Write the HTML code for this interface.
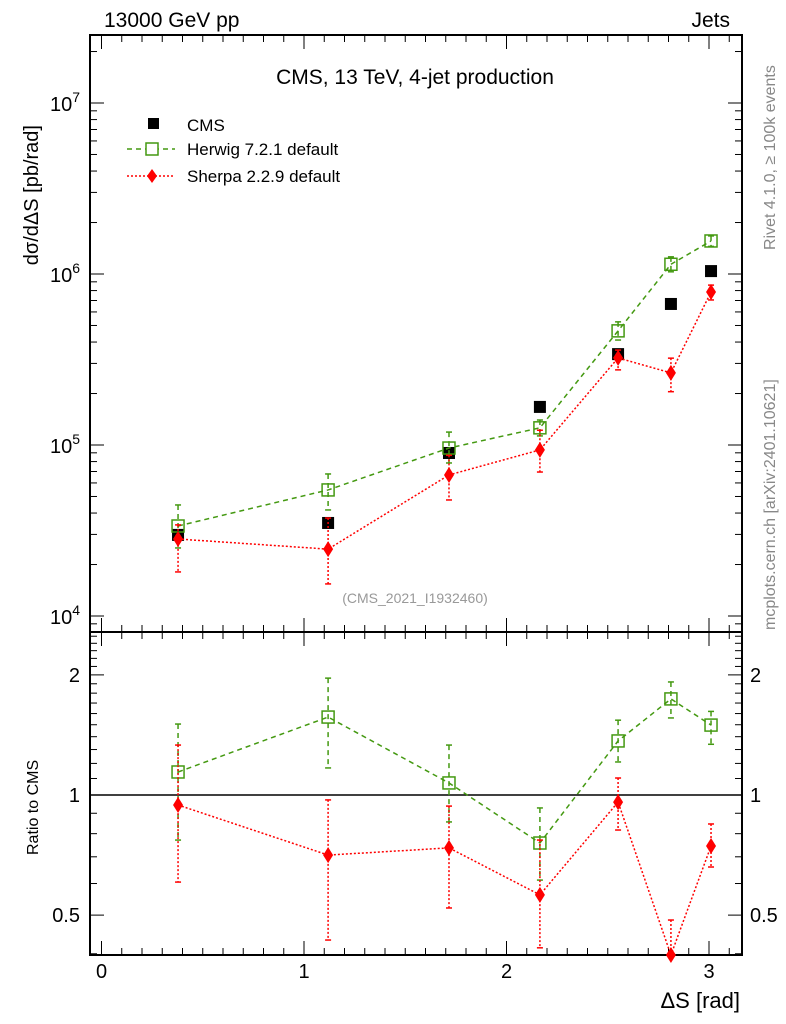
<!DOCTYPE html>
<html><head><meta charset="utf-8"><style>
body{margin:0;background:#fff;}
svg{display:block;font-family:"Liberation Sans",sans-serif;}
</style></head><body>
<svg id="c" width="786" height="1024" viewBox="0 0 786 1024" xmlns="http://www.w3.org/2000/svg"></svg>
<script>
const xs=[0.378,1.119,1.716,2.165,2.551,2.812,3.01];
const cmsVals=[29800,35000,89800,167000,340000,668000,1040000];
const herwigVals=[33600,54600,96000,126000,465000,1140000,1560000];
const herwigLo=[25000,41700,78500,113000,411000,1030000,1450000];
const herwigHi=[44600,67700,119000,140000,525000,1260000,1670000];
const sherpaVals=[28200,24600,66800,93600,323000,264000,785000];
const sherpaLo=[18100,15400,47700,69500,275000,205000,705000];
const sherpaHi=[34100,37400,87000,122000,359000,322000,861000];
const herwigRatio=[1.142,1.568,1.072,0.758,1.366,1.741,1.497];
const herwigRLo=[0.771,1.169,0.856,0.612,1.21,1.56,1.34];
const herwigRHi=[1.506,1.963,1.334,0.928,1.54,1.92,1.62];
const sherpaRatio=[0.944,0.707,0.737,0.562,0.960,0.39,0.745];
const sherpaRLo=[0.605,0.433,0.521,0.414,0.817,0.35,0.660];
const sherpaRHi=[1.334,0.972,0.938,0.771,1.103,0.486,0.846];
const xTicks=[0,1,2,3];
const yMainTicks=[4,5,6,7];
const yRatioTicks=[0.5,1,2];

const L=90,R=742,T=35,M=632,B=955;
const X=v=>101.5+v*202.5;
const YM=v=>616-(Math.log10(v)-4)*171;
const YR=v=>795-Math.log10(v)*399;
const svg=document.getElementById('c');
const NS='http://www.w3.org/2000/svg';
function el(tag,attrs,name,txt){const e=document.createElementNS(NS,tag);for(const k in attrs)e.setAttribute(k,attrs[k]);


if(txt!==undefined)e.textContent=txt;svg.appendChild(e);return e;}
const G='#449911',RD='#ff0000';
function clipY(y,top,bot){return Math.max(top,Math.min(bot,y));}

// frames
el('rect',{x:L,y:T,width:R-L,height:M-T,fill:'none',stroke:'#000','stroke-width':2},'main-frame');
el('rect',{x:L,y:M,width:R-L,height:B-M,fill:'none',stroke:'#000','stroke-width':2},'ratio-frame');
// x ticks
for(let i=0;i<=32;i++){const v=i/10,x=X(v);if(x>R)break;const len=(i%10==0)?14:7;
 el('line',{x1:x,y1:T,x2:x,y2:T+len,stroke:'#000'},'x-tick-top');
 el('line',{x1:x,y1:M,x2:x,y2:M-len,stroke:'#000'},'x-tick-main-bottom');
 el('line',{x1:x,y1:M,x2:x,y2:M+len,stroke:'#000'},'x-tick-ratio-top');
 el('line',{x1:x,y1:B,x2:x,y2:B-len,stroke:'#000'},'x-tick-bottom');}
xTicks.forEach(v=>el('text',{x:X(v),y:978,'font-size':20,'text-anchor':'middle'},'x-tick-label',v));
// main y ticks
for(let d=3;d<=7;d++)for(let m=1;m<=9;m++){const v=m*Math.pow(10,d),y=YM(v);if(y<T||y>M)continue;const len=m==1?14:7;
 el('line',{x1:L,y1:y,x2:L+len,y2:y,stroke:'#000'},'y-tick-left');
 el('line',{x1:R,y1:y,x2:R-len,y2:y,stroke:'#000'},'y-tick-right');}
yMainTicks.forEach(p=>{const t=el('text',{x:80,y:YM(Math.pow(10,p))+8,'font-size':20,'text-anchor':'end'},'y-tick-label','10');
 const s=document.createElementNS(NS,'tspan');s.setAttribute('dy',-9);s.setAttribute('font-size',14);s.textContent=p;t.appendChild(s);});
// ratio ticks
const rminor=[0.4,0.5,0.6,0.7,0.8,0.9,1,1.1,1.2,1.3,1.4,1.5,1.6,1.7,1.8,1.9,2,2.1,2.2,2.3,2.4,2.5];
rminor.forEach(v=>{const y=YR(v);if(y<M||y>B)return;const len=(v==0.5||v==1||v==2)?14:7;
 el('line',{x1:L,y1:y,x2:L+len,y2:y,stroke:'#000'},'ratio-tick-left');
 el('line',{x1:R,y1:y,x2:R-len,y2:y,stroke:'#000'},'ratio-tick-right');});
yRatioTicks.forEach(v=>{el('text',{x:80,y:YR(v)+7,'font-size':20,'text-anchor':'end'},'ratio-tick-label',v);
 el('text',{x:750,y:YR(v)+7,'font-size':20},'ratio-tick-label-right',v);});
el('line',{x1:L,y1:YR(1),x2:R,y2:YR(1),stroke:'#000','stroke-width':1.5},'ratio-unity-line');

// texts
el('text',{x:104,y:27,'font-size':21},'energy-label','13000 GeV pp');
el('text',{x:730,y:27,'font-size':21,'text-anchor':'end'},'process-label','Jets');
el('text',{x:415,y:84,'font-size':21,'text-anchor':'middle'},'plot-title','CMS, 13 TeV, 4-jet production');
el('text',{x:415,y:603,'font-size':14,fill:'#999','text-anchor':'middle'},'analysis-id','(CMS_2021_I1932460)');
el('text',{x:0,y:0,'font-size':20,transform:'translate(38,125) rotate(-90)','text-anchor':'end'},'y-axis-title','dσ/dΔS [pb/rad]');
el('text',{x:0,y:0,'font-size':16,transform:'translate(38,855) rotate(-90)'},'ratio-axis-title','Ratio to CMS');
el('text',{x:740,y:1008,'font-size':22,'text-anchor':'end'},'x-axis-title','ΔS [rad]');
el('text',{x:0,y:0,'font-size':16,fill:'#888',transform:'translate(775,250) rotate(-90)'},'rivet-label','Rivet 4.1.0, ≥ 100k events');
el('text',{x:0,y:0,'font-size':16,fill:'#888',transform:'translate(775,630) rotate(-90)'},'mcplots-label','mcplots.cern.ch [arXiv:2401.10621]');

// legend
el('rect',{x:148,y:118,width:11,height:11,fill:'#000'},'legend-cms-marker');
el('text',{x:187,y:131,'font-size':17},'legend-cms-label','CMS');
el('line',{x1:127,y1:149,x2:175,y2:149,stroke:G,'stroke-width':1.5,'stroke-dasharray':'5,4'},'legend-herwig-line');
el('rect',{x:146,y:143,width:12,height:12,fill:'#fff',stroke:G,'stroke-width':1.5},'legend-herwig-marker');
el('text',{x:187,y:155,'font-size':17},'legend-herwig-label','Herwig 7.2.1 default');
el('line',{x1:127,y1:176,x2:175,y2:176,stroke:RD,'stroke-width':1.5,'stroke-dasharray':'2,2'},'legend-sherpa-line');
el('path',{d:'M152,169 L157,176 L152,183 L147,176Z',fill:RD},'legend-sherpa-marker');
el('text',{x:187,y:182,'font-size':17},'legend-sherpa-label','Sherpa 2.2.9 default');

function series(vals,lo,hi,Y,top,bot,color,dash,marker,name){
 const pts=xs.map((x,i)=>X(x)+','+clipY(Y(vals[i]),top,bot)).join(' ');
 el('polyline',{points:pts,fill:'none',stroke:color,'stroke-width':1.5,'stroke-dasharray':dash},name+'-line');
 xs.forEach((x,i)=>{const cx=X(x),y1=clipY(Y(hi[i]),top,bot),y2=clipY(Y(lo[i]),top,bot),cy=clipY(Y(vals[i]),top,bot);
  el('line',{x1:cx,y1:y1,x2:cx,y2:y2,stroke:color,'stroke-width':1.5,'stroke-dasharray':dash},name+'-errorbar');
  if(y1>top)el('line',{x1:cx-3,y1:y1,x2:cx+3,y2:y1,stroke:color,'stroke-width':1.5},name+'-errorcap');
  if(y2<bot)el('line',{x1:cx-3,y1:y2,x2:cx+3,y2:y2,stroke:color,'stroke-width':1.5},name+'-errorcap');
  if(marker=='sq')el('rect',{x:cx-6,y:cy-6,width:12,height:12,fill:'none',stroke:color,'stroke-width':1.5},name+'-point');
  else el('path',{d:`M${cx},${cy-8} L${cx+5},${cy} L${cx},${cy+8} L${cx-5},${cy}Z`,fill:color},name+'-point');});
}
xs.forEach((x,i)=>el('rect',{x:X(x)-6,y:YM(cmsVals[i])-6,width:12,height:12,fill:'#000'},'cms-point'));
series(herwigVals,herwigLo,herwigHi,YM,T,M,G,'5,4','sq','herwig');
series(sherpaVals,sherpaLo,sherpaHi,YM,T,M,RD,'2,2','dia','sherpa');
series(herwigRatio,herwigRLo,herwigRHi,YR,M,B,G,'5,4','sq','herwig-ratio');
series(sherpaRatio,sherpaRLo,sherpaRHi,YR,M,B,RD,'2,2','dia','sherpa-ratio');
</script>
</body></html>
